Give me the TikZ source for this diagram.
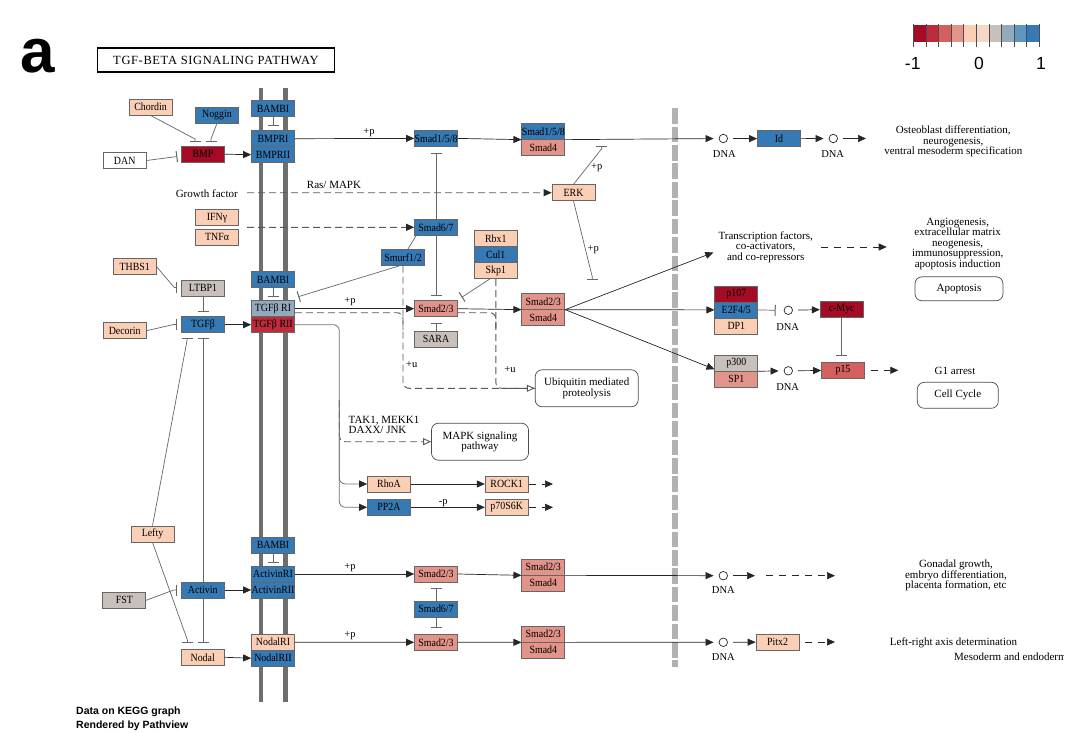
\documentclass[tikz,border=0pt]{standalone}
\usepackage{fontspec}
\setmainfont{Liberation Serif}
\newfontfamily\ksans{Liberation Sans}
\newfontfamily\kgene[FakeStretch=0.9]{Liberation Serif}
\newfontfamily\ktitle[LetterSpace=5]{Liberation Serif}
\usetikzlibrary{arrows.meta,backgrounds}
\definecolor{lg1}{HTML}{A50B25}
\definecolor{lg2}{HTML}{BE2B3B}
\definecolor{lg3}{HTML}{D45F5F}
\definecolor{lg4}{HTML}{E3948A}
\definecolor{lg5}{HTML}{FBCFB6}
\definecolor{lg6}{HTML}{F6D6C5}
\definecolor{lg7}{HTML}{C9BFBB}
\definecolor{lg8}{HTML}{93A9BD}
\definecolor{lg9}{HTML}{6097C0}
\definecolor{lg10}{HTML}{3579B5}

\begin{document}
\begin{tikzpicture}[x=1pt, y=-1pt,
  every node/.style={font=\fontsize{11}{10.5}\selectfont},
  gene/.style={draw=black!60, line width=0.7pt, minimum width=43pt, minimum height=16pt,
    inner sep=0pt, font=\kgene\fontsize{11}{11}\selectfont},
  gdark/.style={gene, fill=lg1},
  gred/.style={gene, fill=lg2},
  gmid/.style={gene, fill=lg3},
  gsalmon/.style={gene, fill=lg4},
  gpeach/.style={gene, fill=lg5},
  ggray/.style={gene, fill=lg7},
  gsteel/.style={gene, fill=lg8},
  gblue/.style={gene, fill=lg10},
  gwhite/.style={gene, fill=white},
  pathbox/.style={draw=black!70, line width=0.7pt, rounded corners=7pt, align=center, inner sep=0pt},
  dna/.style={circle, draw=black!85, line width=0.7pt, minimum size=8.5pt, inner sep=0pt, outer sep=5.5pt},
  dnalbl/.style={inner sep=0pt, font=\fontsize{10.5}{11}\selectfont},
  tag/.style={inner sep=0pt, font=\fontsize{10.5}{11}\selectfont},
  note/.style={inner sep=0pt, align=center},
  act/.style={draw=black!85, line width=0.7pt, -{Triangle[length=8pt,width=7pt]}},
  route/.style={draw=black!55, line width=0.8pt, -{Triangle[length=8pt,width=7pt,black!85]}},
  inh/.style={draw=black!60, line width=0.7pt, -{Bar[width=11pt,line width=1pt]}},
  link/.style={draw=black!60, line width=0.7pt},
  ind/.style={draw=black!65, line width=0.9pt, dash pattern=on 7pt off 4pt},
  indact/.style={ind, -{Triangle[length=8pt,width=7pt,black!85]}},
  indopen/.style={ind, -{Triangle[open,length=8pt,width=7pt,fill=white]}},
  dashact/.style={draw=black!85, line width=0.7pt, dash pattern=on 7pt off 6pt, -{Triangle[length=8pt,width=7pt]}},
]
\useasboundingbox (0,0) rectangle (1080,733);

% header, legend, footer
\node[font=\ksans\bfseries\fontsize{62}{62}\selectfont, anchor=base west, inner sep=0pt] (panel) at (20,72.7) {a};
\node[draw=black, line width=1.8pt, minimum width=237pt, minimum height=24pt, inner sep=0pt,
  font=\ktitle\fontsize{12.5}{13}\selectfont] (title) at (216,60.2) {TGF-BETA SIGNALING PATHWAY};
\foreach \c [count=\i from 0] in {lg1,lg2,lg3,lg4,lg5,lg6,lg7,lg8,lg9,lg10}
  \fill[\c] (913.3+12.6*\i,25) rectangle ++(12.6,16.7);
\foreach \i in {0,...,10}
  \draw[black!70, line width=0.6pt] (913.3+12.6*\i,24) -- ++(0,22.7);
\node[font=\ksans\fontsize{17.5}{18}\selectfont, anchor=base, inner sep=0pt] (lgmin) at (912.7,69.3) {-1};
\node[font=\ksans\fontsize{17.5}{18}\selectfont, anchor=base, inner sep=0pt] (lgmid) at (979,69.3) {0};
\node[font=\ksans\fontsize{17.5}{18}\selectfont, anchor=base, inner sep=0pt] (lgmax) at (1041,69.3) {1};
\node[font=\ksans\bfseries\fontsize{10.5}{12}\selectfont, anchor=base west, inner sep=0pt] (foot1) at (76,714) {Data on KEGG graph};
\node[font=\ksans\bfseries\fontsize{10.5}{12}\selectfont, anchor=base west, inner sep=0pt] (foot2) at (76,728) {Rendered by Pathview};

% BMP branch
\node[gpeach] (chordin) at (150.5,107) {Chordin};
\node[gblue] (noggin) at (217,115) {Noggin};
\node[gwhite] (dan) at (124.7,160.5) {DAN};
\node[gdark] (bmp) at (203,154.2) {BMP};
\node[gblue] (bambiA) at (273,108.7) {BAMBI};
\node[gblue] (bmpr1) at (273,138.7) {BMPRI};
\node[gblue] (bmpr2) at (273,154.7) {BMPRII};
\node[gpeach] (ifng) at (217,217.7) {IFNγ};
\node[gpeach] (tnfa) at (217,237.2) {TNFα};
\node[gblue] (smad158) at (436,138.4) {Smad1/5/8};
\node[gblue] (cxA1) at (543.3,131.3) {Smad1/5/8};
\node[gsalmon] (cxA2) at (543.3,147.3) {Smad4};
\node[gpeach] (erk) at (573.5,192.7) {ERK};
\node[gblue] (smad67) at (436,227.3) {Smad6/7};
\node[gblue] (smurf) at (403,257.3) {Smurf1/2};
\node[gpeach] (rbx1) at (495.8,238.7) {Rbx1};
\node[gblue] (cul1) at (495.8,254.7) {Cul1};
\node[gpeach] (skp1) at (495.8,270.7) {Skp1};
\node[gsalmon] (smad23) at (436,308.7) {Smad2/3};
\node[gsalmon] (cxB1) at (543.3,301.3) {Smad2/3};
\node[gsalmon] (cxB2) at (543.3,317.3) {Smad4};
\node[ggray] (sara) at (436,339) {SARA};

% TGF-beta branch
\node[gpeach] (thbs1) at (134.7,266.7) {THBS1};
\node[ggray] (ltbp1) at (203,288.3) {LTBP1};
\node[gblue] (tgfb) at (203,324.7) {TGFβ};
\node[gpeach] (decorin) at (124.7,330.7) {Decorin};
\node[gblue] (bambiB) at (273,279.7) {BAMBI};
\node[gsteel] (tgfbr1) at (273,308.7) {TGFβ RI};
\node[gred] (tgfbr2) at (273,324.7) {TGFβ RII};
\node[pathbox, minimum width=103pt, minimum height=37pt] (ubiq) at (586.7,388.3) {Ubiquitin mediated\\proteolysis};
\node[pathbox, minimum width=97pt, minimum height=37pt] (mapk) at (480,441.7) {MAPK signaling\\pathway};
\node[gpeach] (rhoa) at (389,484) {RhoA};
\node[gblue] (pp2a) at (389,507.3) {PP2A};
\node[gpeach] (rock1) at (506.7,484) {ROCK1};
\node[gpeach] (p70s6k) at (506.7,507.3) {p70S6K};

% Activin / Nodal branch
\node[gpeach] (lefty) at (152.5,534) {Lefty};
\node[ggray] (fst) at (124.3,600.3) {FST};
\node[gblue] (activin) at (202.7,590) {Activin};
\node[gpeach] (nodal) at (202.7,657.3) {Nodal};
\node[gblue] (bambiC) at (273,545.2) {BAMBI};
\node[gblue] (actr1) at (273,574) {ActivinRI};
\node[gblue] (actr2) at (273,590) {ActivinRII};
\node[gpeach] (nodr1) at (273,642.2) {NodalRI};
\node[gblue] (nodr2) at (273,658.2) {NodalRII};
\node[gsalmon] (smad23b) at (436,574) {Smad2/3};
\node[gsalmon] (cxC1) at (543.3,567) {Smad2/3};
\node[gsalmon] (cxC2) at (543.3,583) {Smad4};
\node[gblue] (smad67b) at (436,609) {Smad6/7};
\node[gsalmon] (smad23c) at (436,642.3) {Smad2/3};
\node[gsalmon] (cxD1) at (543.3,634) {Smad2/3};
\node[gsalmon] (cxD2) at (543.3,650) {Smad4};

% nucleus
\node[dna] (dnaA) at (723.3,138.5) {};
\node[dna] (dnaB) at (833.3,138.5) {};
\node[dna] (dnaC) at (788.3,310.3) {};
\node[dna] (dnaD) at (788.3,370.8) {};
\node[dna] (dnaE) at (723.3,575.7) {};
\node[dna] (dnaF) at (723.3,642.3) {};
\node[dnalbl] (lblA) at (724.3,154.3) {DNA};
\node[dnalbl] (lblB) at (832.7,154.3) {DNA};
\node[dnalbl] (lblC) at (787.7,326.7) {DNA};
\node[dnalbl] (lblD) at (787.7,386.7) {DNA};
\node[dnalbl] (lblE) at (723.3,590.5) {DNA};
\node[dnalbl] (lblF) at (723.3,657) {DNA};
\node[gblue] (id) at (779,138.7) {Id};
\node[gdark] (p107) at (736.3,293.9) {p107};
\node[gblue] (e2f45) at (736.3,309.9) {E2F4/5};
\node[gpeach] (dp1) at (736.3,325.9) {DP1};
\node[gdark] (cmyc) at (841.7,309.2) {c-Myc};
\node[ggray] (p300) at (736.3,362.9) {p300};
\node[gsalmon] (sp1) at (736.3,378.9) {SP1};
\node[gmid] (p15) at (843,370.3) {p15};
\node[gpeach] (pitx2) at (777.5,642) {Pitx2};
\node[pathbox, minimum width=88pt, minimum height=24pt] (apopt) at (959,288.8) {Apoptosis};
\node[pathbox, minimum width=81pt, minimum height=26pt] (cellcyc) at (957.8,395.3) {Cell Cycle};

% texts
\node[inner sep=0pt, anchor=east] (gf) at (238,193.5) {Growth factor};
\node[inner sep=0pt] (rasmapk) at (334,184.5) {Ras/ MAPK};
\node[inner sep=0pt, anchor=west, align=left] (takjnk) at (348.5,425) {TAK1, MEKK1\\DAXX/ JNK};
\node[tag] (pA) at (369,132.7) {+p};
\node[tag] (pB) at (350,302) {+p};
\node[tag] (pC) at (596.7,167.3) {+p};
\node[tag] (pD) at (593.3,249.3) {+p};
\node[tag] (pE) at (350,568) {+p};
\node[tag] (pF) at (350,636) {+p};
\node[tag] (uA) at (411.7,365) {+u};
\node[tag] (uB) at (510,370) {+u};
\node[tag] (dephos) at (443.3,503) {-p};
\node[note] (osteo) at (953.3,141.7) {Osteoblast differentiation,\\neurogenesis,\\ventral mesoderm specification};
\node[note] (tf) at (765.7,247) {Transcription factors,\\co-activators,\\and co-repressors};
\node[note] (angio) at (957.7,243.7) {Angiogenesis,\\extracellular matrix\\neogenesis,\\immunosuppression,\\apoptosis induction};
\node[note] (g1) at (955,371) {G1 arrest};
\node[note] (gonad) at (956,575.7) {Gonadal growth,\\embryo differentiation,\\placenta formation, etc};
\node[note] (lraxis) at (953.5,643.3) {Left-right axis determination};
\begin{scope}
  \clip (0,0) rectangle (1063,733);
  \node[inner sep=0pt, anchor=west] (meso) at (954,656.7) {Mesoderm and endoderm};
\end{scope}

% bar ends
\coordinate (tBmpA) at (195,142);
\coordinate (tBmpB) at (211,142);
\coordinate (tBmpC) at (177.3,156.5);
\coordinate (tBmpR) at (273,125.7);
\coordinate (tErkA) at (601.7,145.7);
\coordinate (tErkB) at (592.3,280);
\coordinate (tS158) at (436,152.7);
\coordinate (tS23) at (436,296);
\coordinate (tRI) at (298.3,296.7);
\coordinate (tSkp) at (461.7,297.3);
\coordinate (tSara) at (436,323.3);
\coordinate (tLtbp) at (177.3,287.5);
\coordinate (tTgfA) at (203,311.7);
\coordinate (tTgfB) at (176.7,324.5);
\coordinate (tTgfC) at (187,337.7);
\coordinate (tTgfD) at (203.3,337.7);
\coordinate (tRIb) at (273,296.7);
\coordinate (tNodA) at (187.5,643.3);
\coordinate (tNodB) at (203.3,643.3);
\coordinate (tAct) at (176.7,590);
\coordinate (tActR) at (273,562.7);
\coordinate (tS23b) at (436,588.3);
\coordinate (tS23c) at (436,628.3);
\coordinate (tDna) at (775.7,310.3);
\coordinate (tP15) at (841.7,356);
% free ends
\coordinate (gfIn) at (247,192.8);
\coordinate (ifnIn) at (247,227.4);
\coordinate (outA) at (866,138.5);
\coordinate (tfIn) at (713.3,252.5);
\coordinate (tfOut) at (886.7,247);
\coordinate (riDash) at (403,330);
\coordinate (smDash) at (495.8,330);
\coordinate (riiBend) at (339.3,325);
\coordinate (mapkFork) at (339.3,400);
\coordinate (rockOut) at (553,484);
\coordinate (p70Out) at (553,507.3);
\coordinate (p15Out) at (898.3,370.3);
\coordinate (outE1) at (755,575.7);
\coordinate (outE2) at (766,575.7);
\coordinate (outE3) at (835,575.7);
\coordinate (pitOut) at (835,642);

\begin{scope}[on background layer]
  \fill[white] (0,0) rectangle (1080,733);
  \fill[black!57] (259,88) rectangle (263.4,702);
  \fill[black!57] (283.3,88) rectangle (287.7,702);
  \draw[black!30, line width=6pt, dash pattern=on 15.7pt off 2.7pt] (674.7,108.3) -- (674.7,666.7);
  \draw[inh, {Bar[width=11pt,line width=1pt]}-{Bar[width=11pt,line width=1pt]}] (tTgfD) -- (tNodB);
\end{scope}

% BMP edges
\draw[inh] (chordin.south) -- ([yshift=3pt]tBmpA) -- (tBmpA);
\draw[inh] (noggin.south) -- ([yshift=3pt]tBmpB) -- (tBmpB);
\draw[inh] (dan.east) -- (tBmpC);
\draw[act] (bmp.east) -- (bmpr2.west);
\draw[inh] (bambiA.south) -- (tBmpR);
\draw[act] (bmpr1.east) -- (smad158.west);
\draw[act] (smad158.east) -- (cxA1.south west);
\draw[act] (cxA1.south east) -- (dnaA);
\draw[act] (dnaA) -- (id);
\draw[act] (id) -- (dnaB);
\draw[act] (dnaB) -- (outA);
\draw[indact] (gfIn) -- (erk.west);
\draw[indact] (ifnIn) -- (smad67.west);
\draw[inh] (erk.north) -- ([yshift=-3pt]tErkA) -- (tErkA);
\draw[inh] (erk.south) -- ([yshift=3pt]tErkB) -- (tErkB);
\draw[inh] (smad67.north) -- (tS158);
\draw[inh] (smad67.south) -- (tS23);
\draw[link] ([xshift=5pt]smurf.north) -- ([xshift=2pt]smad67.south west);
\draw[inh] ([xshift=-3pt]smurf.south) -- (tRI);
\draw[inh] ([xshift=-6pt]skp1.south) -- (tSkp);
\draw[inh] (sara.north) -- (tSara);

% TGF-beta edges
\draw[inh] (thbs1.east) -- ([xshift=-3pt]tLtbp) -- (tLtbp);
\draw[inh] (ltbp1.south) -- (tTgfA);
\draw[inh] (decorin.east) -- ([xshift=-3pt]tTgfB) -- (tTgfB);
\draw[act] (tgfb.east) -- (tgfbr2.west);
\draw[inh] (bambiB.south) -- (tRIb);
\draw[inh] (lefty.north) -- ([yshift=-3pt]tTgfC) -- (tTgfC);
\draw[act] (tgfbr1.east) -- (smad23.west);
\draw[act] (smad23.east) -- (cxB1.south west);
\draw[act] (cxB1.south east) -- (e2f45.west);
\draw[act] (cxB1.south east) -- (tfIn);
\draw[act] (cxB1.south east) -- ([yshift=2pt]p300.south west);
\draw[ind, rounded corners=6pt] ([yshift=-4pt]tgfbr1.east) -| (riDash);
\draw[ind, rounded corners=6pt] ([yshift=-4pt]smad23.east) -| (smDash);
\draw[ind, rounded corners=6pt] (skp1.south) |- (ubiq.west);
\draw[indopen, rounded corners=6pt] (smurf.south) |- (ubiq.west);
\draw[indopen, rounded corners=6pt] (mapkFork) |- (mapk.west);
\draw[route, rounded corners=6pt] (tgfbr2.east) -| (riiBend |- pp2a.west) -- (pp2a.west);
\draw[route, rounded corners=6pt] (mapkFork) |- (rhoa.west);
\draw[act] (rhoa) -- (rock1);
\draw[act] (pp2a) -- (p70s6k);
\draw[dashact] (rock1.east) -- (rockOut);
\draw[dashact] (p70s6k.east) -- (p70Out);

% Activin / Nodal edges
\draw[inh] (lefty.south) -- ([yshift=3pt]tNodA) -- (tNodA);
\draw[inh] (fst.east) -- ([xshift=-3pt]tAct) -- (tAct);
\draw[act] (activin.east) -- (actr2.west);
\draw[inh] (bambiC.south) -- (tActR);
\draw[act] (actr1.east) -- (smad23b.west);
\draw[act] (smad23b.east) -- (cxC1.south west);
\draw[act] (cxC1.south east) -- (dnaE);
\draw[act] (dnaE) -- (outE1);
\draw[dashact] (outE2) -- (outE3);
\draw[inh] (smad67b.north) -- (tS23b);
\draw[inh] (smad67b.south) -- (tS23c);
\draw[act] (nodal.east) -- (nodr2.west);
\draw[act] (nodr1.east) -- (smad23c.west);
\draw[act] (smad23c.east) -- (cxD1.south west);
\draw[act] (cxD1.south east) -- (dnaF);
\draw[act] (dnaF) -- (pitx2);
\draw[dashact, dash phase=7pt] (pitx2.east) -- (pitOut);

% nucleus edges
\draw[inh] (e2f45.east) -- (tDna);
\draw[act] (dnaC) -- (cmyc);
\draw[inh] (cmyc.south) -- (tP15);
\draw[act] (p300.south east) -- (dnaD);
\draw[act] (dnaD) -- (p15);
\draw[dashact, dash phase=7pt] (p15.east) -- (p15Out);
\draw[dashact, shorten <=8pt] (tf.east) -- (tfOut);
\end{tikzpicture}
\end{document}
